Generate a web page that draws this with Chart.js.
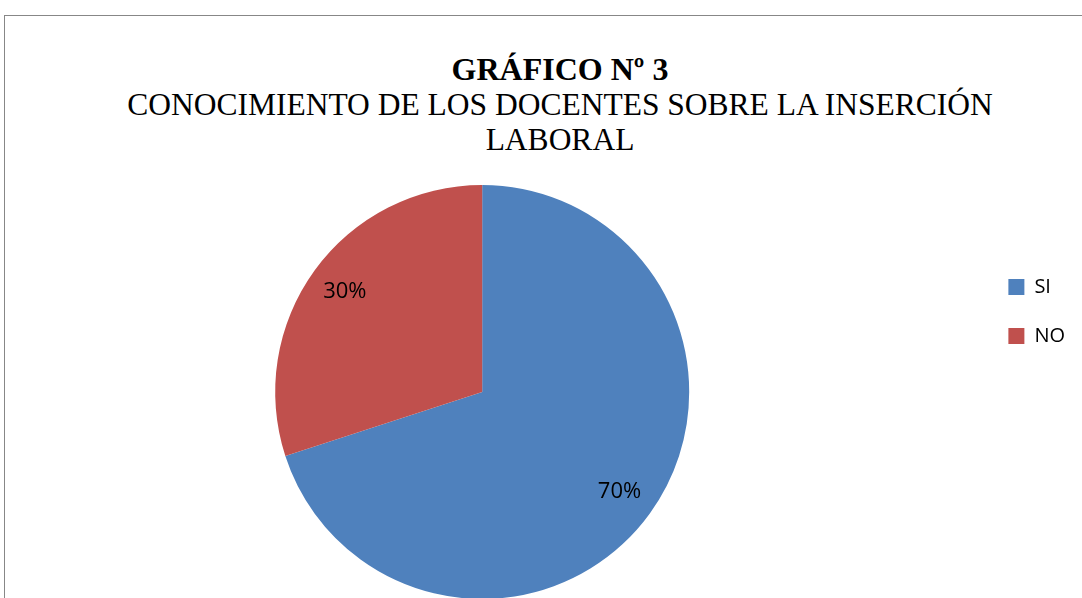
<!DOCTYPE html>
<html lang="es">
<head>
<meta charset="UTF-8" />
<title>grafico 3</title>
<script src="https://cdn.jsdelivr.net/npm/chart.js"></script>
<style>
  body, html {
    margin: 0; padding: 0;
    background: white;
    overflow: hidden;
    width: 1082px; height: 598px;
  }
  .frame {
    position: absolute;
    left: 4px; top: 15px;
    width: 1200px; height: 700px;
    border-top: 1px solid #878787;
    border-left: 1px solid #878787;
  }
  .titles {
    position: absolute;
    left: 0; top: 52px;
    width: 1120px;
    text-align: center;
    font-family: "Liberation Serif", "Times New Roman", serif;
    font-size: 31.5px;
    line-height: 35px;
    color: #000;
  }
  .titles b { font-size: 32px; }
  #pie {
    position: absolute;
    left: -15px; top: 160px;
  }
</style>
</head>
<body>
  <div class="frame"></div>
  <div class="titles">
    <b>GRÁFICO Nº 3</b><br>
    CONOCIMIENTO DE LOS DOCENTES SOBRE LA INSERCIÓN<br>
    LABORAL
  </div>
  <canvas id="pie" width="1090" height="438"></canvas>

<script>
  const labels = ['SI', 'NO'];
  const values = [70, 30];
  const colors = ['#4F81BD', '#C0504D'];

  // percent labels inside the slices
  const pctLabels = {
    id: 'pctLabels',
    afterDatasetsDraw(chart) {
      const ctx = chart.ctx;
      const data = chart.data.datasets[0].data;
      const total = data.reduce((a, b) => a + b, 0);
      ctx.save();
      ctx.font = '22px "Open Sans", sans-serif';
      ctx.fillStyle = '#000';
      ctx.textAlign = 'center';
      ctx.textBaseline = 'middle';
      chart.getDatasetMeta(0).data.forEach((arc, i) => {
        const p = arc.getProps(['x', 'y', 'startAngle', 'endAngle', 'outerRadius'], true);
        const mid = (p.startAngle + p.endAngle) / 2;
        const r = p.outerRadius * 0.82;
        const pct = Math.round(data[i] / total * 100) + '%';
        ctx.fillText(pct, p.x + Math.cos(mid) * r, p.y + Math.sin(mid) * r);
      });
      ctx.restore();
    }
  };

  new Chart(document.getElementById('pie'), {
    type: 'pie',
    data: {
      labels: labels,
      datasets: [{
        data: values,
        backgroundColor: colors,
        borderWidth: 0,
        radius: 207
      }]
    },
    options: {
      responsive: false,
      animation: false,
      layout: { padding: { top: 88, bottom: 62, left: 0, right: 0 } },
      plugins: {
        tooltip: { enabled: false },
        legend: {
          position: 'right',
          align: 'start',
          labels: {
            boxWidth: 16,
            boxHeight: 16,
            padding: 29,
            color: '#000',
            font: { family: '"Open Sans", sans-serif', size: 20 }
          }
        }
      }
    },
    plugins: [pctLabels]
  });
</script>
</body>
</html>
